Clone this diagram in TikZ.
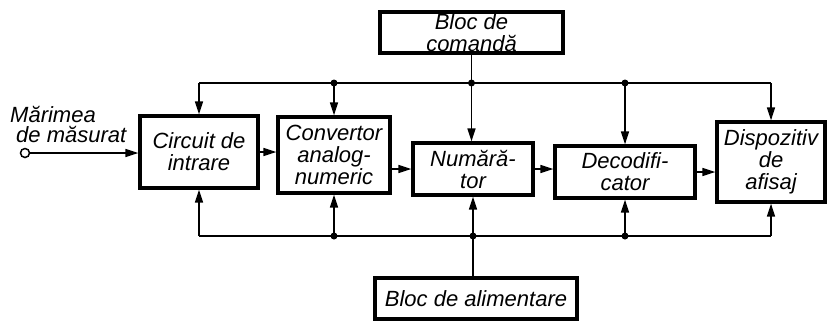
\documentclass[tikz,border=0pt]{standalone}
\usepackage{fontspec}
\newfontfamily\lab{Liberation Sans}
\usetikzlibrary{arrows.meta}
\begin{document}
\begin{tikzpicture}[x=1pt,y=-1pt,
  blk/.style={draw, line width=3.2pt, inner sep=0pt, align=center,
    font=\lab\itshape\fontsize{22}{22}\selectfont},
  wire/.style={line width=1.5pt},
  arr/.style={wire, -{Triangle[length=13pt,width=8pt]}},
  dot/.style={circle, fill, inner sep=0pt, minimum size=7pt},
  txt/.style={font=\lab\itshape\fontsize{22}{22}\selectfont, inner sep=0pt, anchor=west}]
\useasboundingbox (0,0) rectangle (829,322);
\node[blk, minimum width=183pt, minimum height=41pt] (cmd) at (471.5,32.5) {Bloc de\\comandă};
\node[blk, minimum width=118pt, minimum height=72pt] (cir) at (199,152) {Circuit de\\intrare};
\node[blk, minimum width=112pt, minimum height=76pt] (conv) at (334,155) {Convertor\\analog-\\numeric};
\node[blk, minimum width=120pt, minimum height=52pt] (num) at (473,169) {Numără-\\tor};
\node[blk, minimum width=140pt, minimum height=52pt] (dec) at (625,172) {Decodifi-\\cator};
\node[blk, minimum width=108pt, minimum height=80pt] (disp) at (771,162) {Dispozitiv\\de\\afisaj};
\node[blk, minimum width=202pt, minimum height=41pt] (alim) at (476,298.5) {Bloc de alimentare};
\node[txt] (t1) at (10,114) {Mărimea};
\node[txt] (t2) at (16,134) {de măsurat};
\node[draw, circle, line width=1.5pt, inner sep=0pt, minimum size=9pt] (in) at (25,153) {};
\coordinate (tl) at (199,83);
\coordinate (tr) at (771,83);
\coordinate (bl) at (199,236);
\coordinate (br) at (771,236);
% input
\draw[arr] (in) -- (in -| cir.west);
% chain
\draw[arr] (cir.east) -- (cir.east -| conv.west);
\draw[arr] (conv.east |- num.west) -- (num.west);
\draw[arr] (num.east) -- (num.east -| dec.west);
\draw[arr] (dec.east) -- (dec.east -| disp.west);
% top bus
\draw[wire] (tl) -- (tr);
\draw[wire] (cmd.south) -- (cmd.south |- tl);
\draw[arr] (tl) -- (cir.north);
\draw[arr] (conv |- tl) -- (conv.north);
\draw[arr] (cmd.south |- tl) -- (cmd.south |- num.north);
\draw[arr] (dec |- tl) -- (dec.north);
\draw[arr] (tr) -- (disp.north);
\node[dot] (d1) at (conv |- tl) {};
\node[dot] (d2) at (cmd.south |- tl) {};
\node[dot] (d3) at (dec |- tl) {};
% bottom bus
\draw[wire] (bl) -- (br);
\draw[wire] (num |- alim.north) -- (num |- bl);
\draw[arr] (bl) -- (cir.south);
\draw[arr] (conv |- bl) -- (conv.south);
\draw[arr] (num |- bl) -- (num.south);
\draw[arr] (dec |- bl) -- (dec.south);
\draw[arr] (br) -- (disp.south);
\node[dot] (e1) at (conv |- bl) {};
\node[dot] (e2) at (num |- bl) {};
\node[dot] (e3) at (dec |- bl) {};
\end{tikzpicture}
\end{document}
